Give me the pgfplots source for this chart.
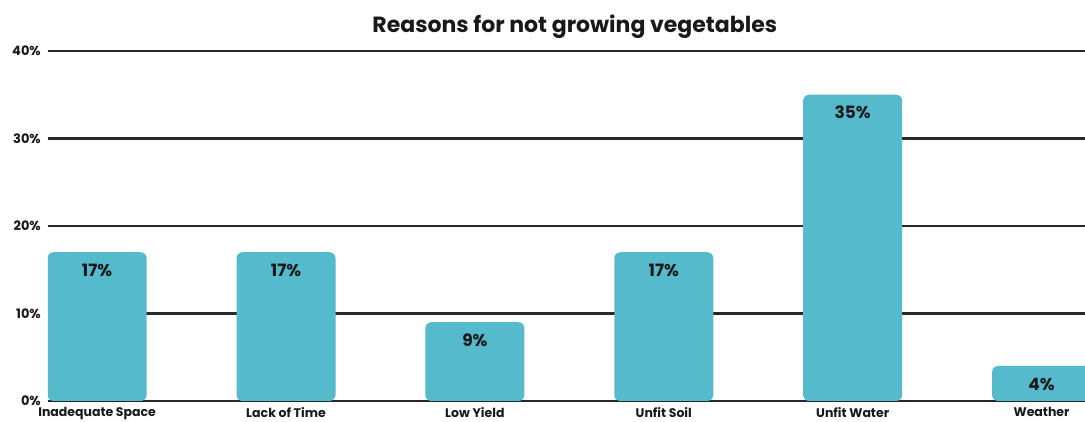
\documentclass[border=0pt]{standalone}
\usepackage{pgfplots}
\pgfplotsset{compat=1.18}
\usepackage{pgfplotstable}
\usepackage{fontspec}
\setmainfont{Poppins}
\definecolor{barteal}{RGB}{86,186,205}
\definecolor{gridc}{RGB}{40,40,40}
\definecolor{txt}{RGB}{25,25,25}
\pgfplotstableread{
x label value
0 {Inadequate Space} 17
1 {Lack of Time} 17
2 {Low Yield} 9
3 {Unfit Soil} 17
4 {Unfit Water} 35
5 {Weather} 4
}\datatab
\begin{document}
\begin{tikzpicture}
\begin{axis}[
  scale only axis,
  width=1037pt, height=350pt,
  at={(0,0)}, anchor=south west,
  xmin=-0.26, xmax=5.23,
  ymin=0, ymax=40,
  ytick={0,10,20,30,40},
  xtick=data,
  xticklabels={Inadequate Space,Lack of Time,Low Yield,Unfit Soil,Unfit Water,Weather},
  yticklabel={\pgfmathprintnumber{\tick}\%},
  /pgf/number format/assume math mode=true,
  axis line style={draw=none},
  major tick length=0pt,
  ymajorgrids,
  major grid style={line width=2.2pt, color=gridc},
  yticklabel style={anchor=east, inner sep=0pt, xshift=-7pt, font=\fontsize{13}{15}\selectfont\bfseries, text=txt},
  xticklabel style={anchor=north, inner sep=0pt, yshift=-6.5pt, font=\fontsize{12.5}{15}\selectfont\bfseries, text=txt},
  title={Reasons for not growing vegetables},
  title style={at={(0.508,1)}, anchor=base, yshift=12pt, inner sep=0pt, font=\fontsize{22}{26}\selectfont\bfseries, text=txt},
  clip=true,
]
\addplot[ybar, bar width=99pt, fill=barteal, draw=none, rounded corners=6pt,
  nodes near coords={\pgfmathprintnumber{\pgfplotspointmeta}\%},
  nodes near coords style={anchor=center, yshift=-18pt, font=\fontsize{17}{19}\selectfont\bfseries, text=txt},
  point meta=explicit]
  table[x=x, y=value, meta=value] {\datatab};
\end{axis}
\pgfresetboundingbox
\path (-48pt,-21pt) rectangle (1037pt,401pt);
\end{tikzpicture}
\end{document}
